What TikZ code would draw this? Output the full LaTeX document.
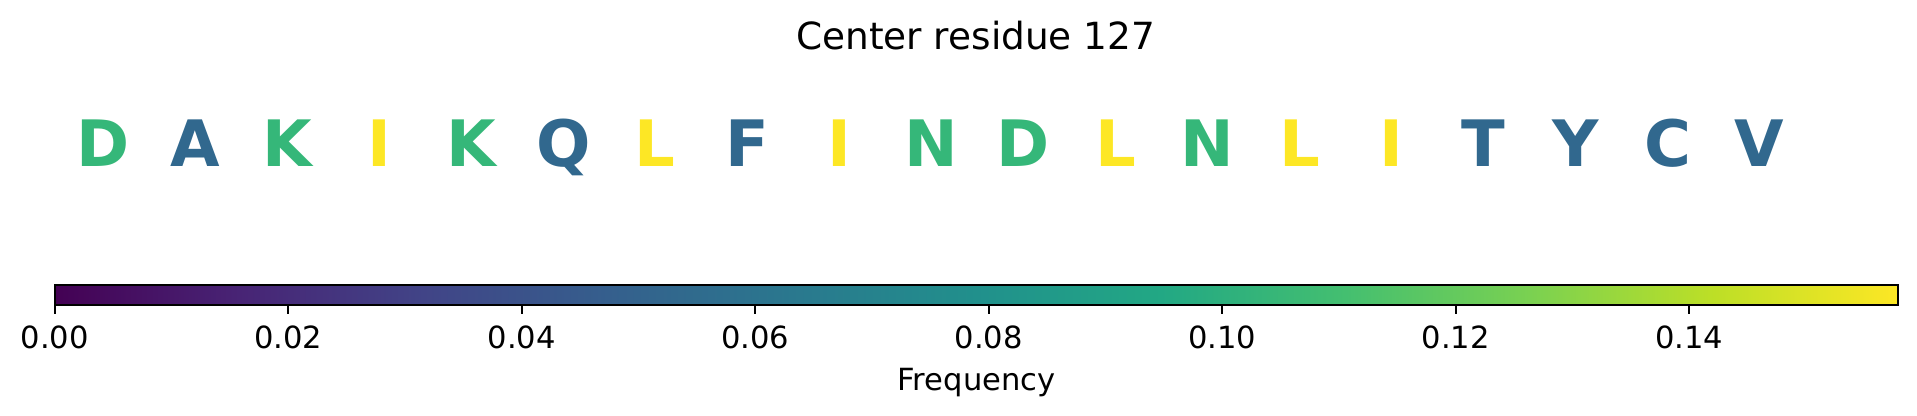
\documentclass[tikz,border=0pt]{standalone}
\usepackage{fontspec}
\setmainfont{DejaVu Sans}
\definecolor{v0}{HTML}{440154}
\definecolor{v1}{HTML}{482475}
\definecolor{v2}{HTML}{414487}
\definecolor{v3}{HTML}{355F8D}
\definecolor{v4}{HTML}{2A788E}
\definecolor{v5}{HTML}{21908C}
\definecolor{v6}{HTML}{22A884}
\definecolor{v7}{HTML}{44BF70}
\definecolor{v8}{HTML}{7AD151}
\definecolor{v9}{HTML}{BDDF26}
\definecolor{v10}{HTML}{FDE725}
\definecolor{fone}{HTML}{31688E}
\definecolor{ftwo}{HTML}{35B779}
\definecolor{fthree}{HTML}{FDE725}
\pgfdeclarehorizontalshading{viridis}{100bp}{color(0bp)=(v0); color(25bp)=(v0); color(30bp)=(v1); color(35bp)=(v2); color(40bp)=(v3); color(45bp)=(v4); color(50bp)=(v5); color(55bp)=(v6); color(60bp)=(v7); color(65bp)=(v8); color(70bp)=(v9); color(75bp)=(v10); color(100bp)=(v10)}
\tikzset{
  resid/.style={inner sep=0pt, anchor=base, font=\fontsize{32}{38}\selectfont\bfseries},
  ticklab/.style={inner sep=0pt, anchor=base, font=\fontsize{15.28}{18}\selectfont},
  titlelab/.style={inner sep=0pt, anchor=base, font=\fontsize{18.7}{22}\selectfont},
  tickline/.style={line width=1.1pt, black},
  barframe/.style={line width=1.1pt, black},
}
\begin{document}
\begin{tikzpicture}[x=0.5pt, y=-0.5pt]
\useasboundingbox (0,0) rectangle (1917,416);
\node[titlelab] (title) at (975.7,50) {Center residue 127};
% residues
\foreach \i/\c/\col in {0/D/ftwo,1/A/fone,2/K/ftwo,3/I/fthree,4/K/ftwo,5/Q/fone,6/L/fthree,7/F/fone,8/I/fthree,9/N/ftwo,10/D/ftwo,11/L/fthree,12/N/ftwo,13/L/fthree,14/I/fthree,15/T/fone,16/Y/fone,17/C/fone,18/V/fone}{
  \node[resid, text=\col] (r\i) at ({103.2+92.02*\i},166.7) {\c};
}
% colorbar
\coordinate (barnw) at (54.7,284.7);
\coordinate (barse) at (1898.3,304.7);
\shade[shading=viridis] (barnw) rectangle (barse);
\draw[barframe] (barnw) rectangle (barse);
\foreach \k/\lab in {0/0.00,1/0.02,2/0.04,3/0.06,4/0.08,5/0.10,6/0.12,7/0.14}{
  \coordinate (tk\k) at ({54.7+233.5*\k},304.7);
  \coordinate (te\k) at ({54.7+233.5*\k},314.4);
  \draw[tickline] (tk\k) -- (te\k);
  \node[ticklab] (tl\k) at ({54.7+233.5*\k},349) {\lab};
}
\node[ticklab] (freq) at (976.5,390.7) {Frequency};
\end{tikzpicture}
\end{document}
